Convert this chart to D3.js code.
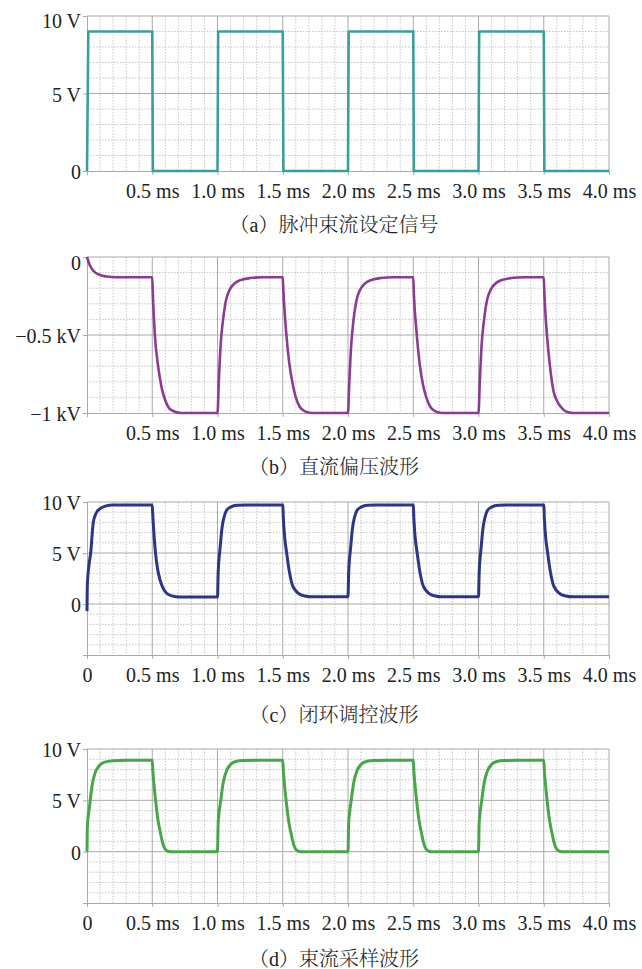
<!DOCTYPE html>
<html>
<head>
<meta charset="utf-8">
<script src="https://cdn.jsdelivr.net/npm/d3@7/dist/d3.min.js"></script>
<style>
  body { margin: 0; background: #fff; }
  svg { display: block; }
</style>
</head>
<body>
<svg id="chart"></svg>
<script>
// time axis (ms)
const xTickValues = [0.5, 1.0, 1.5, 2.0, 2.5, 3.0, 3.5, 4.0];
const xTickValuesZero = [0, 0.5, 1.0, 1.5, 2.0, 2.5, 3.0, 3.5, 4.0];

// (a) pulse set signal, V
const timeA = [0, 0.01, 0.5, 0.505, 1.0, 1.005, 1.5, 1.505, 2.0, 2.005, 2.5, 2.505, 3.0, 3.005, 3.5, 3.505, 4.0];
const valueA = [0, 9, 9, 0, 0, 9, 9, 0, 0, 9, 9, 0, 0, 9, 9, 0, 0];

// (b) dc bias, kV
const timeB = [
  0, 0.02, 0.05, 0.1, 0.15, 0.22, 0.5,
  0.505, 0.52, 0.545, 0.57, 0.6, 0.63, 0.67, 0.72, 1.0,
  1.01, 1.025, 1.04, 1.06, 1.1, 1.17, 1.25, 1.35, 1.5,
  1.505, 1.525, 1.55, 1.575, 1.6, 1.63, 1.67, 1.72, 2.0,
  2.01, 2.025, 2.04, 2.06, 2.1, 2.17, 2.25, 2.35, 2.5,
  2.505, 2.525, 2.55, 2.575, 2.6, 2.63, 2.67, 2.72, 3.0,
  3.01, 3.025, 3.04, 3.06, 3.1, 3.17, 3.25, 3.35, 3.5,
  3.505, 3.52, 3.545, 3.575, 3.6, 3.63, 3.67, 3.72, 4.0
];
const valueB = [
  0, -0.05, -0.09, -0.115, -0.125, -0.13, -0.13,
  -0.25, -0.5, -0.7, -0.83, -0.92, -0.97, -0.99, -1, -1,
  -0.8, -0.55, -0.42, -0.3, -0.2, -0.15, -0.135, -0.13, -0.13,
  -0.22, -0.47, -0.68, -0.81, -0.9, -0.96, -0.99, -1, -1,
  -0.8, -0.56, -0.42, -0.3, -0.2, -0.15, -0.135, -0.13, -0.13,
  -0.24, -0.48, -0.69, -0.82, -0.9, -0.96, -0.99, -1, -1,
  -0.8, -0.55, -0.42, -0.3, -0.2, -0.15, -0.135, -0.13, -0.13,
  -0.24, -0.45, -0.68, -0.86, -0.92, -0.96, -0.99, -1, -1
];

// (c) closed-loop control, V
const timeC = [
  0, 0.003, 0.015, 0.028, 0.048, 0.07, 0.1, 0.14, 0.2, 0.5,
  0.505, 0.515, 0.525, 0.54, 0.56, 0.585, 0.61, 0.65, 0.71, 1.0,
  1.005, 1.02, 1.035, 1.05, 1.07, 1.1, 1.15, 1.22, 1.5,
  1.505, 1.515, 1.53, 1.55, 1.57, 1.6, 1.63, 1.67, 1.72, 2.0,
  2.005, 2.02, 2.035, 2.05, 2.07, 2.1, 2.15, 2.22, 2.5,
  2.505, 2.515, 2.53, 2.55, 2.57, 2.6, 2.63, 2.67, 2.72, 3.0,
  3.005, 3.02, 3.035, 3.05, 3.07, 3.1, 3.15, 3.22, 3.5,
  3.505, 3.515, 3.53, 3.55, 3.57, 3.6, 3.63, 3.67, 3.72, 4.0
];
const valueC = [
  -0.7, 2, 3.8, 5, 8, 8.9, 9.35, 9.6, 9.7, 9.7,
  8.5, 6.5, 5, 3.5, 2.35, 1.5, 1.05, 0.8, 0.68, 0.68,
  3, 5.5, 7.5, 8.5, 9.2, 9.5, 9.68, 9.7, 9.7,
  8.3, 6.5, 5, 3.2, 2, 1.3, 0.95, 0.78, 0.7, 0.7,
  3, 5.5, 7.5, 8.5, 9.2, 9.5, 9.68, 9.7, 9.7,
  8.3, 6.5, 5, 3.2, 2, 1.3, 0.95, 0.78, 0.7, 0.7,
  3, 5.5, 7.5, 8.5, 9.2, 9.5, 9.68, 9.7, 9.7,
  8.3, 6.5, 5, 3.2, 2, 1.3, 0.95, 0.78, 0.7, 0.7
];

// (d) beam sampling, V
const timeD = [
  0, 0.003, 0.02, 0.04, 0.06, 0.09, 0.13, 0.2, 0.3, 0.5,
  0.505, 0.515, 0.53, 0.545, 0.56, 0.575, 0.59, 0.61, 0.64, 1.0,
  1.005, 1.025, 1.045, 1.07, 1.1, 1.14, 1.2, 1.3, 1.5,
  1.505, 1.515, 1.53, 1.545, 1.56, 1.575, 1.59, 1.61, 1.64, 2.0,
  2.005, 2.025, 2.045, 2.07, 2.1, 2.14, 2.2, 2.3, 2.5,
  2.505, 2.515, 2.53, 2.545, 2.56, 2.575, 2.59, 2.61, 2.64, 3.0,
  3.005, 3.025, 3.045, 3.07, 3.1, 3.14, 3.2, 3.3, 3.5,
  3.505, 3.515, 3.53, 3.545, 3.56, 3.575, 3.59, 3.61, 3.64, 4.0
];
const valueD = [
  0, 2.5, 4.5, 6.5, 7.6, 8.3, 8.7, 8.85, 8.9, 8.9,
  7.8, 6.3, 4.5, 3, 2, 1.1, 0.45, 0.1, 0, 0,
  2.7, 5, 6.8, 7.9, 8.5, 8.78, 8.87, 8.9, 8.9,
  7.8, 6.3, 4.5, 3, 2, 1.1, 0.45, 0.1, 0, 0,
  2.7, 5, 6.8, 7.9, 8.5, 8.78, 8.87, 8.9, 8.9,
  7.8, 6.3, 4.5, 3, 2, 1.1, 0.45, 0.1, 0, 0,
  2.7, 5, 6.8, 7.9, 8.5, 8.78, 8.87, 8.9, 8.9,
  7.8, 6.3, 4.5, 3, 2, 1.1, 0.45, 0.1, 0, 0
];

const width = 642;
const height = 969;
const left = 87;
const right = 609;

const panels = [
  {
    top: 16, bottom: 171, yDomain: [0, 10], yStep: 1, yMajor: [5, 10],
    yTicks: [0, 5, 10], yLabels: ['0', '5 V', '10 V'], topShift: 3.5,
    xTicks: xTickValues, time: timeA, value: valueA,
    color: '#3c9e9c', lineWidth: 2.6, curve: d3.curveLinear,
    caption: '（a）脉冲束流设定信号', captionY: 225
  },
  {
    top: 257, bottom: 413, yDomain: [-1, 0], yStep: 0.1, yMajor: [-0.5, 0],
    yTicks: [-1, -0.5, 0], yLabels: ['\u22121 kV', '\u22120.5 kV', '0'], topShift: 4.5,
    xTicks: xTickValues, time: timeB, value: valueB,
    color: '#8a3b92', lineWidth: 2.6, curve: d3.curveMonotoneX,
    caption: '（b）直流偏压波形', captionY: 467
  },
  {
    top: 502, bottom: 655, yDomain: [-5, 10], yStep: 1, yMajor: [0, 5, 10],
    yTicks: [0, 5, 10], yLabels: ['0', '5 V', '10 V'], topShift: 0,
    xTicks: xTickValuesZero, time: timeC, value: valueC,
    color: '#2c3682', lineWidth: 3, curve: d3.curveMonotoneX,
    caption: '（c）闭环调控波形', captionY: 715
  },
  {
    top: 749, bottom: 903, yDomain: [-5, 10], yStep: 1, yMajor: [0, 5, 10],
    yTicks: [0, 5, 10], yLabels: ['0', '5 V', '10 V'], topShift: 0,
    xTicks: xTickValuesZero, time: timeD, value: valueD,
    color: '#4aa54a', lineWidth: 3, curve: d3.curveMonotoneX,
    caption: '（d）束流采样波形', captionY: 959
  }
];

const svg = d3.select('#chart')
  .attr('width', width)
  .attr('height', height)
  .attr('viewBox', `0 0 ${width} ${height}`);

svg.append('rect').attr('width', width).attr('height', height).attr('fill', '#fff');

const x = d3.scaleLinear().domain([0, 4]).range([left, right]);
const fontSerif = '"Liberation Serif", "Times New Roman", serif';

panels.forEach(p => {
  const y = d3.scaleLinear().domain(p.yDomain).range([p.bottom, p.top]);
  const g = svg.append('g');

  // minor grid, dotted
  const xMinor = d3.range(0.1, 4, 0.1).filter(t => Math.abs(t * 2 - Math.round(t * 2)) > 1e-6);
  g.append('g').selectAll('line')
    .data(xMinor)
    .enter().append('line')
    .attr('x1', d => x(d)).attr('x2', d => x(d))
    .attr('y1', p.top).attr('y2', p.bottom)
    .attr('stroke', '#b8b8b8').attr('stroke-width', 0.8)
    .attr('stroke-dasharray', '1.5,1.5');

  const nY = Math.round((p.yDomain[1] - p.yDomain[0]) / p.yStep);
  const yMinor = d3.range(1, nY).map(i => p.yDomain[0] + i * p.yStep)
    .filter(v => !p.yMajor.some(m => Math.abs(m - v) < 1e-6));
  g.append('g').selectAll('line')
    .data(yMinor)
    .enter().append('line')
    .attr('x1', left).attr('x2', right)
    .attr('y1', d => y(d)).attr('y2', d => y(d))
    .attr('stroke', '#b8b8b8').attr('stroke-width', 0.8)
    .attr('stroke-dasharray', '1.5,1.5');

  // major grid, solid
  g.append('g').selectAll('line')
    .data(d3.range(0.5, 4.01, 0.5))
    .enter().append('line')
    .attr('x1', d => x(d)).attr('x2', d => x(d))
    .attr('y1', p.top).attr('y2', p.bottom)
    .attr('stroke', '#a9a9a9').attr('stroke-width', 1);

  g.append('g').selectAll('line')
    .data(p.yMajor)
    .enter().append('line')
    .attr('x1', left).attr('x2', right)
    .attr('y1', d => y(d)).attr('y2', d => y(d))
    .attr('stroke', '#a9a9a9').attr('stroke-width', 1);

  // axes
  const xAxis = g.append('g')
    .attr('transform', `translate(0,${p.bottom})`)
    .call(d3.axisBottom(x)
      .tickValues(p.xTicks)
      .tickFormat(d => d === 0 ? '0' : d3.format('.1f')(d) + ' ms')
      .tickSize(4)
      .tickPadding(9));

  const yAxis = g.append('g')
    .attr('transform', `translate(${left},0)`)
    .call(d3.axisLeft(y)
      .tickValues(p.yTicks)
      .tickFormat((d, i) => p.yLabels[i])
      .tickSize(4)
      .tickPadding(2));

  [xAxis, yAxis].forEach(a => {
    a.select('.domain').attr('stroke', '#a9a9a9').attr('stroke-width', 1);
    a.selectAll('.tick line').attr('stroke', '#a9a9a9');
    a.selectAll('.tick text')
      .attr('fill', '#222')
      .style('font-family', fontSerif)
      .style('font-size', '20px');
  });

  yAxis.selectAll('.tick text')
    .attr('dy', d => d === p.yDomain[1] ? `${0.38 * 20 + p.topShift}px` : '0.38em');

  // line trace
  const line = d3.line()
    .x(d => x(d[0]))
    .y(d => y(d[1]))
    .curve(p.curve);

  g.append('path')
    .datum(p.time.map((t, i) => [t, p.value[i]]))
    .attr('d', line)
    .attr('fill', 'none')
    .attr('stroke', p.color)
    .attr('stroke-width', p.lineWidth)
    .attr('stroke-linejoin', 'round');

  // caption
  svg.append('text')
    .attr('x', 334)
    .attr('y', p.captionY)
    .attr('dy', '0.35em')
    .attr('text-anchor', 'middle')
    .attr('fill', '#222')
    .style('font-family', '"Liberation Serif", "Noto Serif CJK SC", "Noto Sans CJK SC", serif')
    .style('font-size', '20px')
    .style('font-weight', 300)
    .text(p.caption);
});
</script>
</body>
</html>
